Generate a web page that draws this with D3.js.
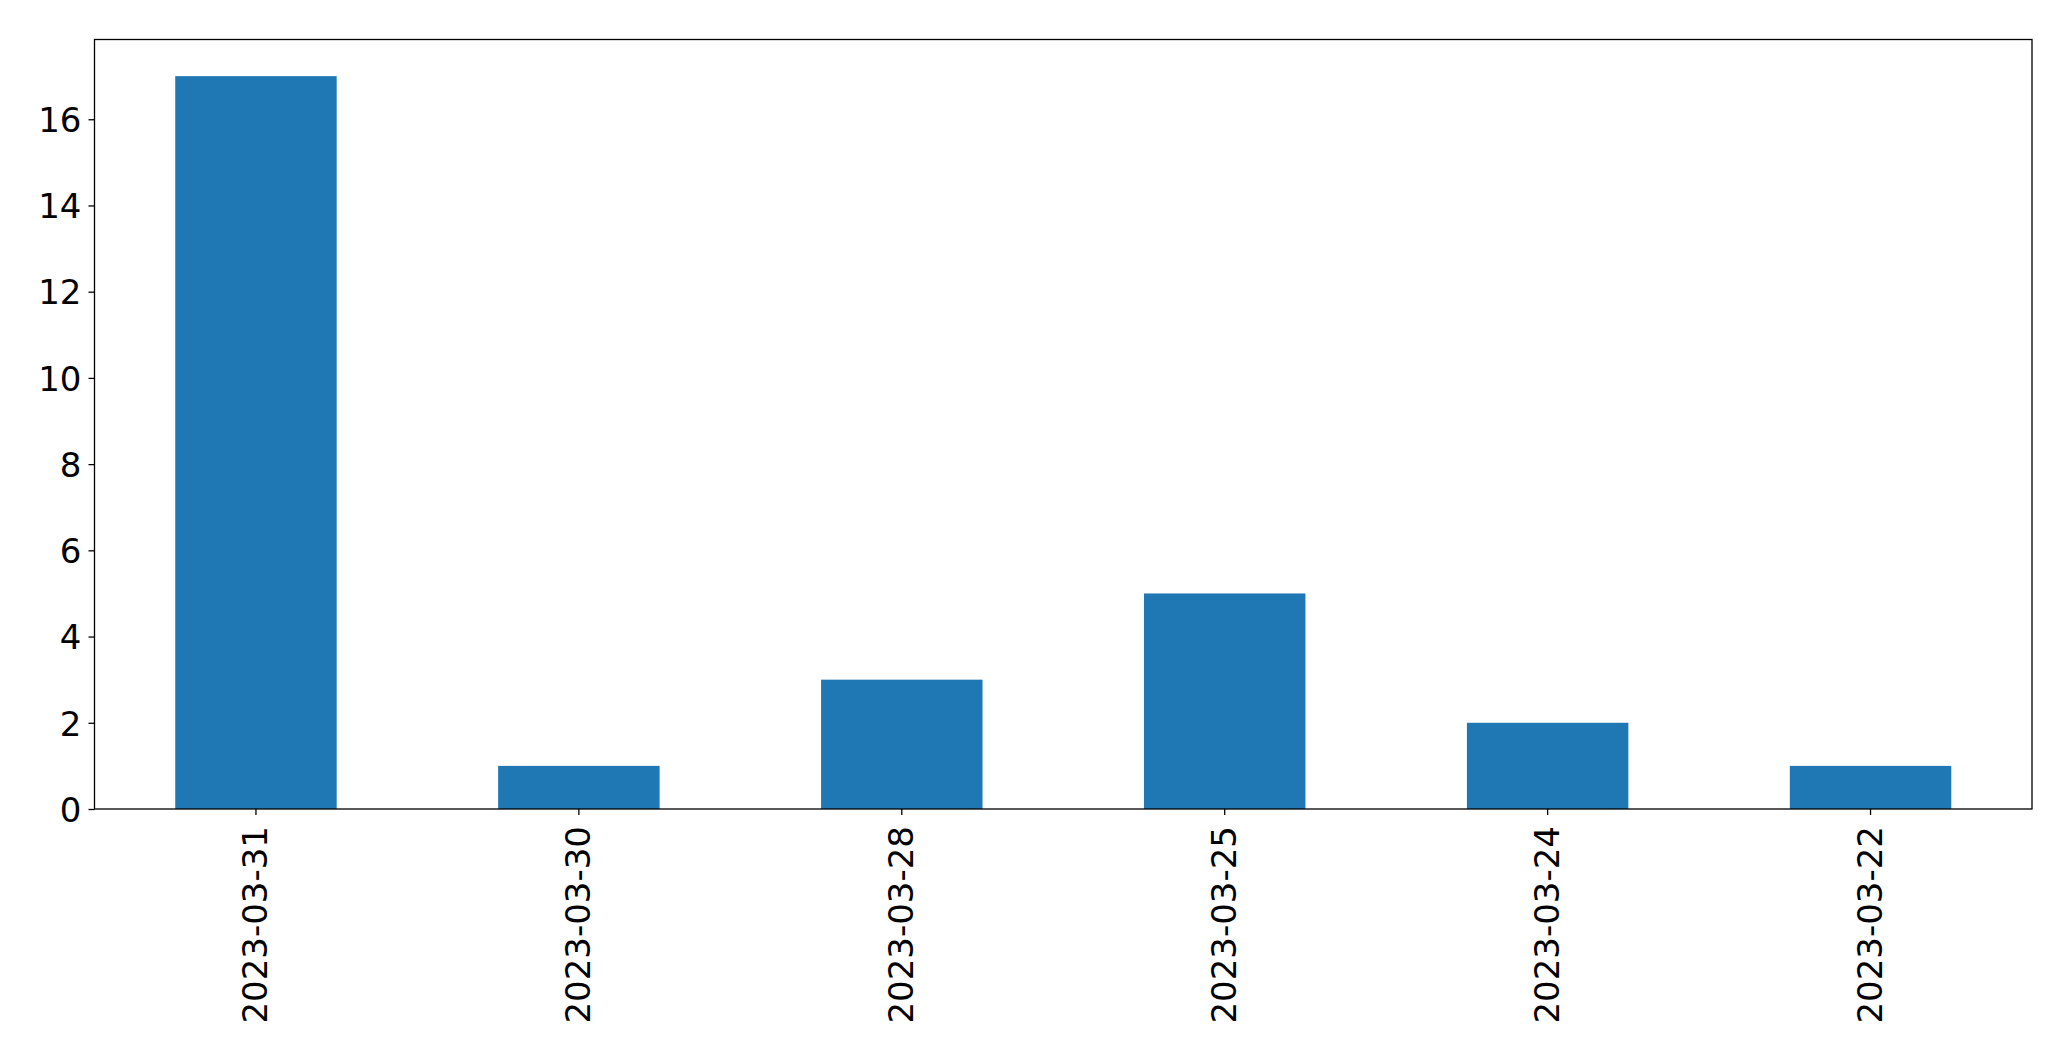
<!DOCTYPE html>
<html>
<head>
<meta charset="utf-8">
<script src="https://cdn.jsdelivr.net/npm/d3@7"></script>
<style>
  html, body { margin: 0; padding: 0; background: #fff; }
  svg { display: block; }
  text { font-family: "DejaVu Sans", sans-serif; }
</style>
</head>
<body>
<script>
const categories = ["2023-03-31", "2023-03-30", "2023-03-28", "2023-03-25", "2023-03-24", "2023-03-22"];
const values = [17, 1, 3, 5, 2, 1];
const yTicks = [0, 2, 4, 6, 8, 10, 12, 14, 16];

(function () {
const W = 2071, H = 1061;
const mLeft = 94.5, mRight = 2032, mTop = 39.5, mBottom = 809;
const fontSize = 34;

const svg = d3.select("body").append("svg").attr("width", W).attr("height", H);

const x = d3.scaleBand().domain(categories).range([mLeft, mRight]).paddingInner(0.5).paddingOuter(0.25);
const yMax = d3.max(values) * 1.05;
const y = d3.scaleLinear().domain([0, yMax]).range([mBottom, mTop]);

svg.append("g").selectAll("rect").data(values).join("rect")
  .attr("x", (d, i) => x(categories[i]))
  .attr("width", x.bandwidth())
  .attr("y", d => y(d))
  .attr("height", d => y(0) - y(d))
  .attr("fill", "#1f77b4");

// frame
svg.append("rect")
  .attr("x", mLeft).attr("y", mTop)
  .attr("width", mRight - mLeft).attr("height", mBottom - mTop)
  .attr("fill", "none").attr("stroke", "#000").attr("stroke-width", 1.3);

// y axis
const yAxis = d3.axisLeft(y).tickValues(yTicks).tickSize(6).tickPadding(7).tickFormat(d3.format("d"));
const gy = svg.append("g").attr("transform", `translate(${mLeft},0)`).call(yAxis);
gy.select(".domain").remove();
gy.selectAll(".tick line").attr("stroke", "#000").attr("stroke-width", 1.3);
gy.selectAll(".tick text").attr("font-size", fontSize).attr("fill", "#000")
  .attr("font-family", "DejaVu Sans, sans-serif").attr("dy", "0.36em");

// x axis
const xAxis = d3.axisBottom(x).tickSize(6).tickPadding(0);
const gx = svg.append("g").attr("transform", `translate(0,${mBottom})`).call(xAxis);
gx.select(".domain").remove();
gx.selectAll(".tick line").attr("stroke", "#000").attr("stroke-width", 1.3);
gx.selectAll(".tick text")
  .attr("font-size", fontSize).attr("fill", "#000")
  .attr("font-family", "DejaVu Sans, sans-serif")
  .attr("text-anchor", "end")
  .attr("dy", null)
  .attr("y", 0)
  .attr("transform", `translate(${0.33 * fontSize},17) rotate(-90)`);
})();
</script>
</body>
</html>
